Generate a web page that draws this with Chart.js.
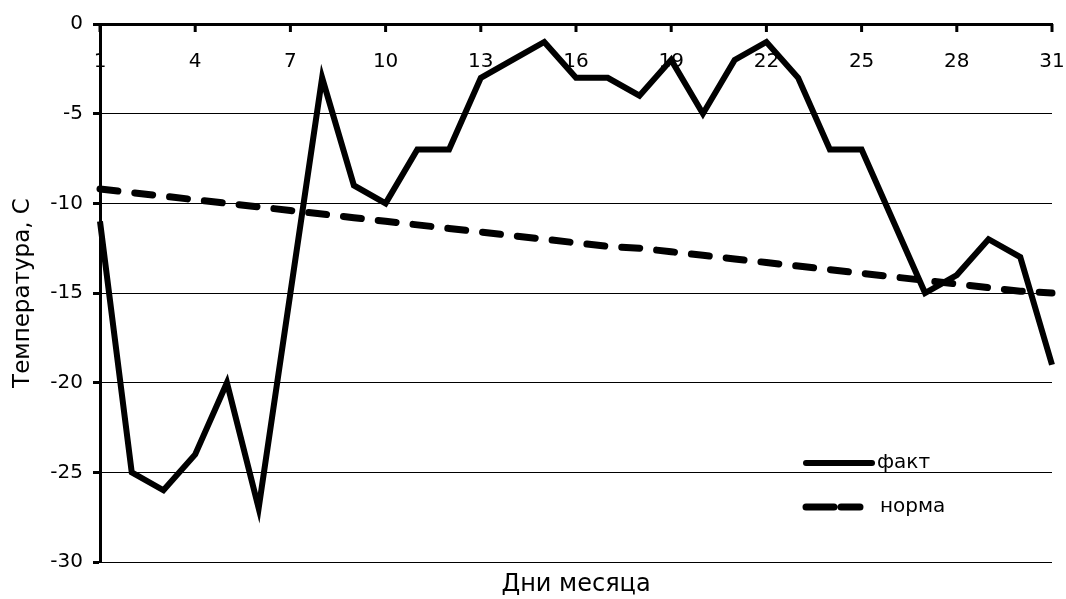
<!DOCTYPE html>
<html>
<head>
<meta charset="utf-8">
<script src="https://cdn.jsdelivr.net/npm/chart.js@4"></script>
<style>
  body { margin: 0; background: #fff; }
  #wrap { width: 1066px; height: 599px; position: relative; }
</style>
</head>
<body>
<div id="wrap"><canvas id="tempChart"></canvas></div>
<script>
// days of the month
const days = ['1','2','3','4','5','6','7','8','9','10','11','12','13','14','15','16',
  '17','18','19','20','21','22','23','24','25','26','27','28','29','30','31'];
// actual temperature
const fact = [-11, -25, -26, -24, -20, -27, -15, -3, -9, -10, -7, -7, -3, -2, -1, -3,
  -3, -4, -2, -5, -2, -1, -3, -7, -7, -11, -15, -14, -12, -13, -19];
// climate norm
const norma = [-9.2, -9.4, -9.6, -9.8, -10.0, -10.2, -10.4, -10.6, -10.8, -11.0, -11.2,
  -11.4, -11.6, -11.8, -12.0, -12.2, -12.4, -12.5, -12.7, -12.9, -13.1, -13.3, -13.5,
  -13.7, -13.9, -14.1, -14.3, -14.5, -14.7, -14.9, -15.0];
const yTicks = [-30, -25, -20, -15, -10, -5, 0];
const shownDays = ['1','4','7','10','13','16','19','22','25','28','31'];

const FONT = "'DejaVu Sans', sans-serif";

// legend inside the plot (lower right) + inward tick marks on the top axis
const extras = {
  id: 'extras',
  afterDraw(chart) {
    const ctx = chart.ctx;
    const xs = chart.scales.x;
    ctx.save();
    // tick marks pointing down into the plot
    ctx.strokeStyle = '#000';
    ctx.lineWidth = 3;
    xs.ticks.forEach((t, i) => {
      if (t.label === null) return;
      const px = xs.getPixelForTick(i);
      ctx.beginPath();
      ctx.moveTo(px, xs.bottom);
      ctx.lineTo(px, xs.bottom + 8);
      ctx.stroke();
    });

    const rows = [
      { ds: chart.data.datasets[0], y: 463, dash: [] },
      { ds: chart.data.datasets[1], y: 507, dash: [28, 7] }
    ];
    rows.forEach(r => {
      ctx.strokeStyle = r.ds.borderColor;
      ctx.lineWidth = r.ds.borderWidth;
      ctx.lineCap = 'round';
      ctx.setLineDash(r.dash);
      ctx.beginPath();
      ctx.moveTo(806, r.y);
      ctx.lineTo(r.dash.length ? 860 : 872, r.y);
      ctx.stroke();
      ctx.setLineDash([]);
      ctx.fillStyle = '#000';
      ctx.font = '20px ' + FONT;
      ctx.textBaseline = 'middle';
      ctx.fillText(r.ds.label, r.dash.length ? 880 : 877, r.y);
    });
    ctx.restore();
  }
};

const data = {
  labels: days,
  datasets: [{
    label: 'факт',
    data: fact,
    borderColor: '#000',
    borderWidth: 6,
    borderJoinStyle: 'miter',
    pointRadius: 0,
    tension: 0,
    clip: false
  }, {
    label: 'норма',
    data: norma,
    borderColor: '#000',
    borderWidth: 7,
    borderDash: [18, 17],
    borderCapStyle: 'round',
    pointRadius: 0,
    tension: 0,
    clip: false
  }]
};

const noPad = s => { s.paddingLeft = 0; s.paddingRight = 0; };

const config = {
  type: 'line',
  data,
  options: {
    responsive: true,
    maintainAspectRatio: false,
    animation: false,
    layout: { padding: { left: 0, right: 14, top: 0, bottom: 0 } },
    plugins: {
      legend: { display: false },
      tooltip: { enabled: false }
    },
    scales: {
      x: {
        type: 'category',
        position: 'top',
        afterFit: s => { s.height = 24; noPad(s); },
        grid: { drawOnChartArea: false, drawTicks: false, color: '#000' },
        border: { display: true, color: '#000', width: 3 },
        ticks: {
          autoSkip: false,
          maxRotation: 0,
          mirror: true,
          padding: 26,
          color: '#000',
          font: { family: FONT, size: 20 },
          callback: function (v) {
            const lab = this.getLabelForValue(v);
            return shownDays.includes(lab) ? lab : null;
          }
        }
      },
      xb: {
        type: 'category',
        position: 'bottom',
        afterFit: s => { s.height = 37; noPad(s); },
        grid: { display: false },
        border: { display: false },
        ticks: { display: false },
        title: {
          display: true,
          text: 'Дни месяца',
          color: '#000',
          font: { family: FONT, size: 24 },
          padding: { top: 0, bottom: 0 }
        }
      },
      y: {
        min: -30,
        max: 0,
        afterFit: s => { s.width = 100; },
        afterBuildTicks: s => { s.ticks = yTicks.map(v => ({ value: v })); },
        grid: { color: '#000', lineWidth: 1, tickLength: 7, tickWidth: 3, tickColor: '#000' },
        border: { display: true, color: '#000', width: 3 },
        ticks: {
          padding: 10,
          color: '#000',
          font: { family: FONT, size: 20 }
        },
        title: {
          display: true,
          text: 'Температура, С',
          color: '#000',
          font: { family: FONT, size: 23 },
          padding: { top: 9, bottom: 0 }
        }
      }
    }
  },
  plugins: [extras]
};

const tempChart = new Chart(document.getElementById('tempChart'), config);
</script>
</body>
</html>
